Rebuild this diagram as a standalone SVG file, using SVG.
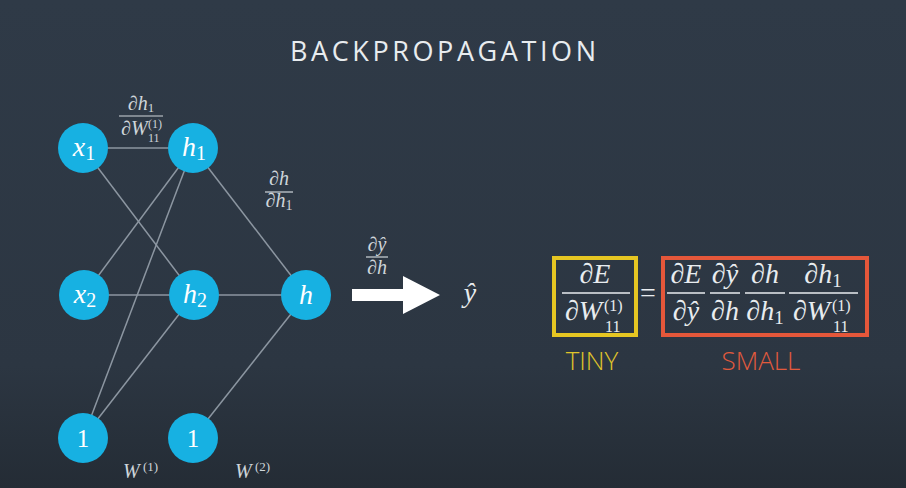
<svg xmlns="http://www.w3.org/2000/svg" width="906" height="488" viewBox="0 0 906 488">
  <defs>
    <linearGradient id="bg" x1="0" y1="0" x2="0" y2="1">
      <stop offset="0" stop-color="#2f3a47"/>
      <stop offset="0.75" stop-color="#2c3642"/>
      <stop offset="1" stop-color="#242c35"/>
    </linearGradient>
    <style>
      .edge { stroke: #8c96a1; stroke-width: 1.5; fill: none; }
      .node { fill: #17b1e2; }
      .nl { font-family: "Liberation Serif", "DejaVu Serif", serif; fill: #ffffff; }
      .it { font-style: italic; }
      .m { font-family: "Liberation Serif", "DejaVu Serif", serif; fill: #e8ecef; }
      .ml { font-family: "Liberation Serif", "DejaVu Serif", serif; fill: #cfd5da; }
      .bar { stroke: #e8ecef; stroke-width: 1.5; }
      .lbar { stroke: #cfd5da; stroke-width: 1.2; }
      .sans { font-family: "Open Sans", "Liberation Sans", sans-serif; }
    </style>
  </defs>
  <rect x="0" y="0" width="906" height="488" fill="url(#bg)"/>

  <text class="sans" x="443" y="61" font-size="27" fill="#e8ecef" text-anchor="middle" textLength="306" lengthAdjust="spacing">BACKPROPAGATION</text>

  <g id="connectors">
    <line class="edge" x1="83" y1="148" x2="193" y2="148"/>
    <line class="edge" x1="83" y1="148" x2="194" y2="295"/>
    <line class="edge" x1="84" y1="295" x2="193" y2="148"/>
    <line class="edge" x1="84" y1="295" x2="194" y2="295"/>
    <line class="edge" x1="83" y1="438" x2="193" y2="148"/>
    <line class="edge" x1="83" y1="438" x2="194" y2="295"/>
    <line class="edge" x1="193" y1="148" x2="306" y2="295"/>
    <line class="edge" x1="194" y1="295" x2="306" y2="295"/>
    <line class="edge" x1="193" y1="438" x2="306" y2="295"/>
  </g>

  <g id="node-x1">
    <circle class="node" cx="83" cy="148" r="25"/>
    <text class="nl" x="84" y="156" font-size="28" text-anchor="middle"><tspan class="it">x</tspan><tspan font-size="20" dy="4">1</tspan></text>
  </g>
  <g id="node-h1">
    <circle class="node" cx="193" cy="148" r="25"/>
    <text class="nl" x="194" y="156" font-size="28" text-anchor="middle"><tspan class="it">h</tspan><tspan font-size="20" dy="4">1</tspan></text>
  </g>
  <g id="node-x2">
    <circle class="node" cx="84" cy="295" r="25"/>
    <text class="nl" x="85" y="303" font-size="28" text-anchor="middle"><tspan class="it">x</tspan><tspan font-size="20" dy="4">2</tspan></text>
  </g>
  <g id="node-h2">
    <circle class="node" cx="194" cy="295" r="25"/>
    <text class="nl" x="195" y="303" font-size="28" text-anchor="middle"><tspan class="it">h</tspan><tspan font-size="20" dy="4">2</tspan></text>
  </g>
  <g id="node-h">
    <circle class="node" cx="306" cy="295" r="25"/>
    <text class="nl it" x="306" y="304" font-size="28" text-anchor="middle">h</text>
  </g>
  <g id="node-b1">
    <circle class="node" cx="83" cy="438" r="25"/>
    <text class="nl" x="83" y="447" font-size="25" text-anchor="middle">1</text>
  </g>
  <g id="node-b2">
    <circle class="node" cx="193" cy="438" r="25"/>
    <text class="nl" x="193" y="447" font-size="25" text-anchor="middle">1</text>
  </g>

  <g id="label-dh1-dW11">
    <text class="ml" x="141" y="110" font-size="20" text-anchor="middle"><tspan class="it">∂h</tspan><tspan font-size="13" dy="2">1</tspan></text>
    <line class="lbar" x1="119" y1="116" x2="163" y2="116"/>
    <text class="ml it" x="121" y="135" font-size="20">∂W</text>
    <text class="ml" x="148" y="128" font-size="12">(1)</text>
    <text class="ml" x="148" y="142" font-size="12">11</text>
  </g>
  <g id="label-dh-dh1">
    <text class="ml it" x="279" y="185" font-size="20" text-anchor="middle">∂h</text>
    <line class="lbar" x1="265" y1="192" x2="293" y2="192"/>
    <text class="ml" x="279" y="207" font-size="20" text-anchor="middle"><tspan class="it">∂h</tspan><tspan font-size="14" dy="3">1</tspan></text>
  </g>
  <g id="label-dy-dh">
    <text class="ml it" x="377" y="251" font-size="20" text-anchor="middle">∂ŷ</text>
    <line class="lbar" x1="366" y1="257" x2="388" y2="257"/>
    <text class="ml it" x="377" y="274" font-size="20" text-anchor="middle">∂h</text>
  </g>

  <g id="label-W1">
    <text class="ml it" x="123" y="478" font-size="20">W</text>
    <text class="ml" x="143" y="471" font-size="13">(1)</text>
  </g>
  <g id="label-W2">
    <text class="ml it" x="235" y="478" font-size="20">W</text>
    <text class="ml" x="255" y="471" font-size="13">(2)</text>
  </g>

  <g id="arrow">
    <polygon points="352,289 403,289 403,276 440,295 403,314 403,301 352,301" fill="#ffffff"/>
  </g>
  <g id="node-yhat">
    <text class="m it" x="470" y="302" font-size="28" text-anchor="middle">ŷ</text>
  </g>

  <g id="tiny-box">
    <rect x="554" y="258" width="82" height="77" fill="none" stroke="#e6c622" stroke-width="4"/>
    <text class="m it" x="595" y="283" font-size="28" text-anchor="middle">∂E</text>
    <line class="bar" x1="562" y1="293" x2="630" y2="293"/>
    <text class="m it" x="565" y="320" font-size="28">∂W</text>
    <text class="m" x="604" y="311" font-size="16">(1)</text>
    <text class="m" x="605" y="332" font-size="16">11</text>
    <text class="sans" x="592" y="370" font-size="26" font-weight="300" fill="#e0c52a" text-anchor="middle">TINY</text>
  </g>

  <g id="equals">
    <text class="m" x="648" y="302" font-size="28" text-anchor="middle">=</text>
  </g>

  <g id="small-box">
    <rect x="663" y="258" width="204" height="77" fill="none" stroke="#e5573a" stroke-width="4"/>
    <text class="m it" x="686" y="283" font-size="28" text-anchor="middle">∂E</text>
    <line class="bar" x1="667" y1="293" x2="705" y2="293"/>
    <text class="m it" x="686" y="320" font-size="28" text-anchor="middle">∂ŷ</text>

    <text class="m it" x="725" y="283" font-size="28" text-anchor="middle">∂ŷ</text>
    <line class="bar" x1="710" y1="293" x2="740" y2="293"/>
    <text class="m it" x="725" y="320" font-size="28" text-anchor="middle">∂h</text>

    <text class="m it" x="765" y="283" font-size="28" text-anchor="middle">∂h</text>
    <line class="bar" x1="745" y1="293" x2="785" y2="293"/>
    <text class="m" x="765" y="320" font-size="28" text-anchor="middle"><tspan class="it">∂h</tspan><tspan font-size="19" dy="4">1</tspan></text>

    <text class="m" x="823" y="283" font-size="28" text-anchor="middle"><tspan class="it">∂h</tspan><tspan font-size="19" dy="4">1</tspan></text>
    <line class="bar" x1="789" y1="293" x2="858" y2="293"/>
    <text class="m it" x="793" y="320" font-size="28">∂W</text>
    <text class="m" x="832" y="311" font-size="16">(1)</text>
    <text class="m" x="833" y="332" font-size="16">11</text>
    <text class="sans" x="761" y="370" font-size="26" font-weight="300" fill="#e25a3d" text-anchor="middle">SMALL</text>
  </g>
</svg>
